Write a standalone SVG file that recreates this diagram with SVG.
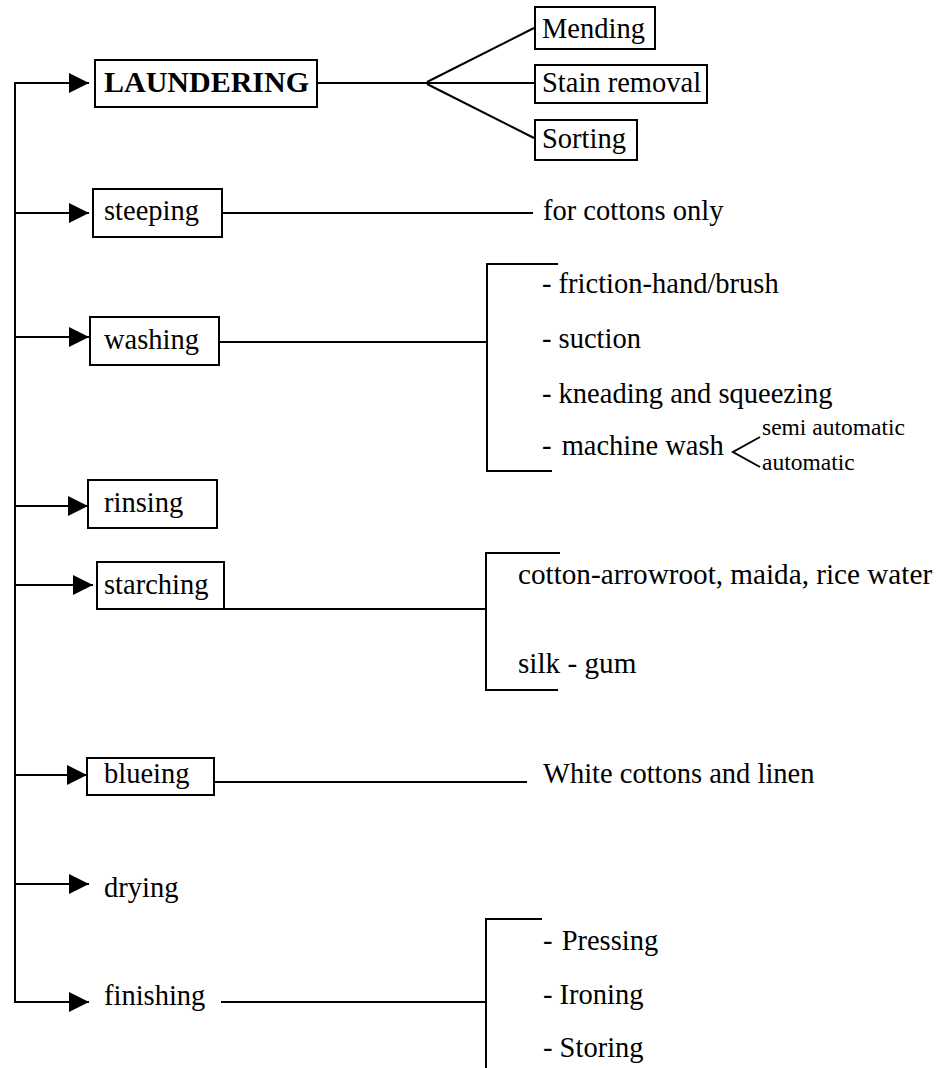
<svg xmlns="http://www.w3.org/2000/svg" width="941" height="1068" viewBox="0 0 941 1068">
<style>
text{font-family:"Liberation Serif","Times New Roman",serif;font-size:28.5px;fill:#000}
.b{font-weight:bold;font-size:30px}
.s{font-size:23.5px}
.w{font-size:29.2px}
.box{fill:#fff;stroke:#000;stroke-width:2}
.ln{stroke:#000;stroke-width:2;fill:none}
</style>
<defs>
<marker id="ah" markerUnits="userSpaceOnUse" markerWidth="22" markerHeight="22" refX="20" refY="10" orient="auto">
<path d="M0,0 L20,10 L0,20 Z" fill="#000"/>
</marker>
</defs>
<g id="connectors" class="ln">
<line x1="15" y1="83" x2="15" y2="1003"/>
<line x1="14" y1="83" x2="89" y2="83" marker-end="url(#ah)"/>
<line x1="14" y1="213" x2="89" y2="213" marker-end="url(#ah)"/>
<line x1="14" y1="337" x2="89" y2="337" marker-end="url(#ah)"/>
<line x1="14" y1="506" x2="88" y2="506" marker-end="url(#ah)"/>
<line x1="14" y1="585" x2="93" y2="585" marker-end="url(#ah)"/>
<line x1="14" y1="775" x2="87" y2="775" marker-end="url(#ah)"/>
<line x1="14" y1="884" x2="89" y2="884" marker-end="url(#ah)"/>
<line x1="14" y1="1002" x2="89" y2="1002" marker-end="url(#ah)"/>
<line x1="317" y1="83" x2="427" y2="83"/>
<line x1="427" y1="83" x2="535" y2="83"/>
<line x1="427" y1="82" x2="534" y2="28"/>
<line x1="427" y1="84" x2="534" y2="138"/>
<line x1="222" y1="213" x2="533" y2="213"/>
<line x1="219" y1="342" x2="487" y2="342"/>
<polyline points="558,264 487,264 487,471 552,471"/>
<polyline points="760,437 733,452 760,467"/>
<line x1="224" y1="609" x2="486" y2="609"/>
<polyline points="560,553 486,553 486,690 558,690"/>
<line x1="214" y1="782" x2="527" y2="782"/>
<line x1="221" y1="1002" x2="486" y2="1002"/>
<polyline points="542,919 486,919 486,1068"/>
</g>
<g id="laundering"><rect class="box" x="95" y="60" width="222" height="47"/><text class="b" x="104" y="92">LAUNDERING</text></g>
<g id="mending"><rect class="box" x="535" y="7" width="120" height="42"/><text x="542" y="38">Mending</text></g>
<g id="stain"><rect class="box" x="535" y="65" width="172" height="38"/><text x="542" y="92">Stain removal</text></g>
<g id="sorting"><rect class="box" x="535" y="120" width="102" height="40"/><text x="542" y="148">Sorting</text></g>
<g id="steeping"><rect class="box" x="93" y="189" width="129" height="48"/><text x="104" y="220">steeping</text></g>
<g id="steeping-note"><text x="543" y="220">for cottons only</text></g>
<g id="washing"><rect class="box" x="90" y="317" width="129" height="48"/><text x="104" y="349">washing</text></g>
<g id="washing-methods">
<text x="542" y="293">- friction-hand/brush</text>
<text x="542" y="348">- suction</text>
<text x="542" y="403">- kneading and squeezing</text>
<text x="542" y="455">- <tspan dx="3">machine wash</tspan></text>
<text class="s" x="762" y="435">semi automatic</text>
<text class="s" x="762" y="470">automatic</text>
</g>
<g id="rinsing"><rect class="box" x="88" y="480" width="129" height="48"/><text x="104" y="512">rinsing</text></g>
<g id="starching"><rect class="box" x="97" y="562" width="127" height="47"/><text x="104" y="594">starching</text></g>
<g id="starching-types">
<text class="w" x="518" y="584">cotton-arrowroot, maida, rice water</text>
<text class="w" x="518" y="673">silk - gum</text>
</g>
<g id="blueing"><rect class="box" x="87" y="758" width="127" height="37"/><text x="104" y="783">blueing</text></g>
<g id="blueing-note"><text x="543" y="783">White cottons and linen</text></g>
<g id="drying"><text x="104" y="897">drying</text></g>
<g id="finishing"><text x="104" y="1005">finishing</text></g>
<g id="finishing-steps">
<text x="543" y="950">- <tspan dx="2">Pressing</tspan></text>
<text x="543" y="1004">- Ironing</text>
<text x="543" y="1057">- Storing</text>
</g>
</svg>
